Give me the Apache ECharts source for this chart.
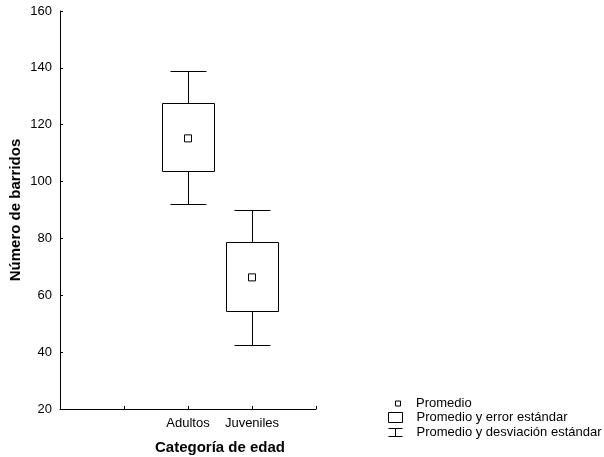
<!DOCTYPE html>
<html>
<head>
<meta charset="utf-8">
<script src="https://cdn.jsdelivr.net/npm/echarts@6/dist/echarts.min.js"></script>
<style>html,body{margin:0;padding:0;background:#fff;}#c{width:604px;height:457px;}</style>
</head>
<body>
<div id="c"></div>
<script>
const categories = ['Adultos', 'Juveniles'];
const means = [115.2, 66.3];
const seLow = [103.6, 54.4];
const seHigh = [127.5, 78.6];
const sdLow = [92.0, 42.5];
const sdHigh = [139.0, 90.0];
const yTicks = [20, 40, 60, 80, 100, 120, 140, 160];

const firstSlot = 2;
const FONT = 'Liberation Sans, Arial, sans-serif';
const chart = echarts.init(document.getElementById('c'), null, {renderer: 'canvas'});

const whiskerData = categories.map((c, i) => [i + firstSlot, sdLow[i], sdHigh[i]]);
const boxData = categories.map((c, i) => [i + firstSlot, seLow[i], seHigh[i]]);
const meanData = categories.map((c, i) => [i + firstSlot, means[i]]);

function px(v) { return Math.round(v) + 0.5; }

function renderWhisker(params, api) {
  const x = api.value(0);
  const lo = api.coord([x, api.value(1)]);
  const hi = api.coord([x, api.value(2)]);
  const cx = px(lo[0]);
  const yl = px(lo[1]), yh = px(hi[1]);
  const half = 18;
  const st = {stroke: '#000', lineWidth: 1, fill: null};
  return {type: 'group', children: [
    {type: 'line', shape: {x1: cx, y1: yh, x2: cx, y2: yl}, style: st},
    {type: 'line', shape: {x1: cx - half, y1: yh, x2: cx + half, y2: yh}, style: st},
    {type: 'line', shape: {x1: cx - half, y1: yl, x2: cx + half, y2: yl}, style: st}
  ]};
}

function renderBox(params, api) {
  const x = api.value(0);
  const lo = api.coord([x, api.value(1)]);
  const hi = api.coord([x, api.value(2)]);
  const cx = Math.round(lo[0]);
  const yl = px(lo[1]), yh = px(hi[1]);
  const half = 26;
  return {type: 'rect', shape: {x: cx - half + 0.5, y: yh, width: half * 2, height: yl - yh},
    style: {fill: '#fff', stroke: '#000', lineWidth: 1}};
}

const legendText = {fontSize: 13, color: '#000', fontFamily: FONT};
function mkLegend(name, icon, w, h, left, top) {
  return {
    data: [{name: name, icon: icon, itemStyle: {color: '#fff', borderColor: '#000', borderWidth: 1}}],
    left: left, top: top, padding: 0, itemWidth: w, itemHeight: h,
    selectedMode: false, textStyle: legendText, symbolKeepAspect: true, orient: 'vertical'
  };
}

const option = {
  animation: false,
  backgroundColor: '#fff',
  grid: {left: 60, top: 11, width: 256, height: 398, containLabel: false, outerBoundsMode: 'none'},
  xAxis: {
    type: 'value', min: 0, max: 4, interval: 1,
    axisLine: {show: true, lineStyle: {color: '#000', width: 1}},
    axisTick: {show: true, inside: true, length: 3, lineStyle: {color: '#000'}},
    splitLine: {show: false},
    axisLabel: {
      color: '#000', fontSize: 13, fontFamily: FONT, margin: 8,
      showMinLabel: true, showMaxLabel: true,
      formatter: v => categories[v - firstSlot] || ''
    },
    name: 'Categoría de edad', nameLocation: 'middle', nameGap: 31,
    nameTextStyle: {fontSize: 15, fontWeight: 'bold', color: '#000', fontFamily: FONT, padding: [0, 0, 0, 64]}
  },
  yAxis: {
    type: 'value', min: yTicks[0], max: yTicks[yTicks.length - 1], interval: yTicks[1] - yTicks[0],
    axisLine: {show: true, lineStyle: {color: '#000', width: 1}},
    axisTick: {show: true, inside: true, length: 3, lineStyle: {color: '#000'}},
    splitLine: {show: false},
    axisLabel: {color: '#000', fontSize: 13, fontFamily: FONT, margin: 8},
    name: 'Número de barridos', nameLocation: 'middle', nameGap: 37,
    nameTextStyle: {fontSize: 15, fontWeight: 'bold', color: '#000', fontFamily: FONT}
  },
  legend: [
    mkLegend('Promedio', 'path://M0,0L1,0L1,1L0,1Z', 26, 5, 395, 397),
    mkLegend('Promedio y error estándar', 'path://M0,0L14,0L14,10L0,10Z', 32, 10, 388, 411),
    mkLegend('Promedio y desviación estándar', 'path://M0,0L14,0M7,0L7,8M0,8L14,8', 32, 8, 388, 426)
  ],
  series: [
    {name: 'Promedio y desviación estándar', type: 'custom', renderItem: renderWhisker,
     data: whiskerData, encode: {x: 0, y: [1, 2]}, z: 1, silent: true,
     itemStyle: {color: '#fff', borderColor: '#000'}},
    {name: 'Promedio y error estándar', type: 'custom', renderItem: renderBox,
     data: boxData, encode: {x: 0, y: [1, 2]}, z: 2, silent: true,
     itemStyle: {color: '#fff', borderColor: '#000'}},
    {name: 'Promedio', type: 'scatter', data: meanData, symbol: 'rect', symbolSize: 7, z: 3,
     itemStyle: {color: '#fff', borderColor: '#000', borderWidth: 1, opacity: 1}, silent: true}
  ]
};
chart.setOption(option);
</script>
</body>
</html>
